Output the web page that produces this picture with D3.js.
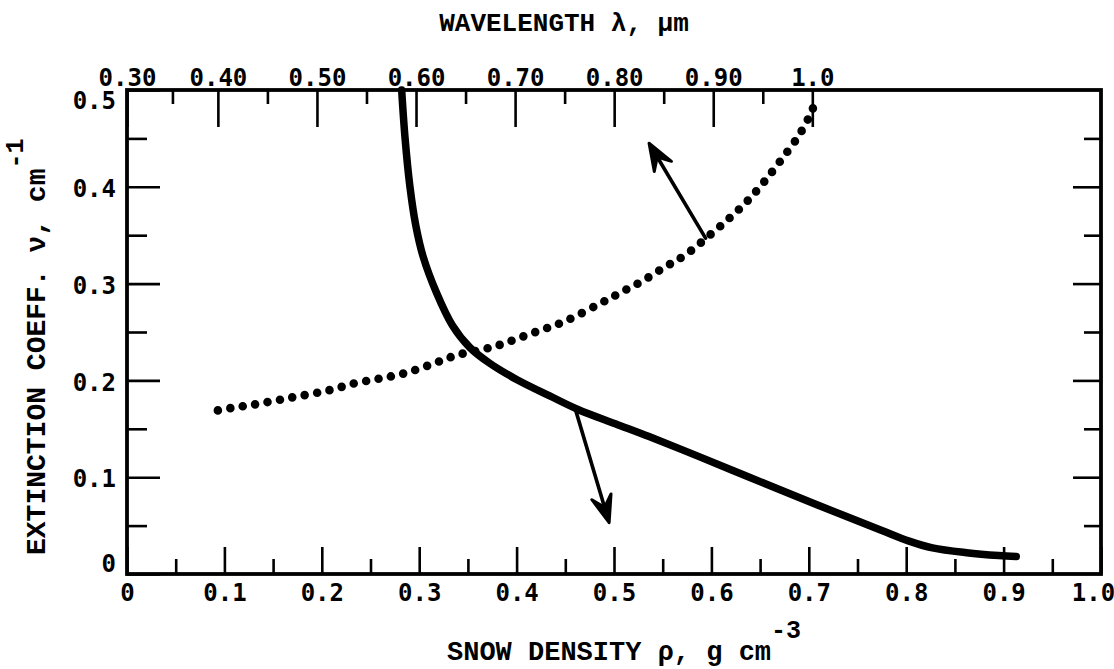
<!DOCTYPE html>
<html>
<head>
<meta charset="utf-8">
<script src="https://cdn.jsdelivr.net/npm/d3@7"></script>
<style>
  html, body { margin: 0; padding: 0; background: #fff; }
  svg { display: block; }
</style>
</head>
<body>
<svg id="chart" width="1114" height="669"></svg>
<script>
// ---------------- data ----------------
// Solid curve: extinction coefficient vs snow density (bottom axis)
const densityRho = [0.282, 0.2855, 0.2905, 0.2965, 0.304, 0.318, 0.334, 0.352, 0.372, 0.400, 0.434, 0.463, 0.502, 0.536, 0.588, 0.639, 0.690, 0.742, 0.775, 0.803, 0.827, 0.862, 0.895, 0.913];
const densityNu  = [0.500, 0.450, 0.400, 0.360, 0.328, 0.290, 0.257, 0.234, 0.218, 0.201, 0.184, 0.170, 0.155, 0.142, 0.121, 0.100, 0.079, 0.058, 0.045, 0.034, 0.027, 0.022, 0.019, 0.018];

// Dotted curve: extinction coefficient vs wavelength (top axis)
const wavelengthLambda = [0.400, 0.4165, 0.436, 0.4726, 0.513, 0.538, 0.564, 0.587, 0.614, 0.641, 0.679, 0.715, 0.750, 0.785, 0.807, 0.829, 0.851, 0.871, 0.901, 0.920, 0.936, 0.952, 0.968, 0.987, 0.999, 1.003];
const wavelengthNu     = [0.169, 0.172, 0.175, 0.182, 0.190, 0.197, 0.202, 0.207, 0.216, 0.226, 0.235, 0.248, 0.261, 0.279, 0.291, 0.303, 0.317, 0.329, 0.354, 0.371, 0.387, 0.406, 0.427, 0.454, 0.477, 0.488];

// Top wavelength axis calibration: wavelength value -> position on density axis
const topAxisLambda  = [0.30, 0.40, 1.0];
const topAxisDensity = [0.0, 0.0933, 0.7036];

// Tick values / labels
const xMajor = [0, 0.1, 0.2, 0.3, 0.4, 0.5, 0.6, 0.7, 0.8, 0.9, 1.0];
const xMinor = [0.05, 0.15, 0.25, 0.35, 0.45, 0.55, 0.65, 0.75, 0.85, 0.95];
const xLabels = ["0", "0.1", "0.2", "0.3", "0.4", "0.5", "0.6", "0.7", "0.8", "0.9", "1.0"];
const yMajor = [0, 0.1, 0.2, 0.3, 0.4, 0.5];
const yMinor = [0.05, 0.15, 0.25, 0.35, 0.45];
const yLabels = ["0", "0.1", "0.2", "0.3", "0.4", "0.5"];
const topMajor = [0.30, 0.40, 0.50, 0.60, 0.70, 0.80, 0.90, 1.0];
const topMinor = [0.35, 0.45, 0.55, 0.65, 0.75, 0.85, 0.95];
const topLabels = ["0.30", "0.40", "0.50", "0.60", "0.70", "0.80", "0.90", "1.0"];

// Annotation arrows (density-axis coords): from curve to tip
const arrowFrom = [[0.594, 0.347], [0.461, 0.168]];
const arrowTo   = [[0.536, 0.445], [0.495, 0.053]];

// ---------------- drawing ----------------
const svg = d3.select("#chart");
const x = d3.scaleLinear().domain([0, 1]).range([127, 1101]);
const y = d3.scaleLinear().domain([0, 0.5]).range([574, 90]);
const xTop = d3.scaleLinear().domain(topAxisLambda).range(topAxisDensity.map(d => x(d)));

const tickFont = "'DejaVu Sans Mono', monospace";
const titleFont = "'Liberation Mono', 'Courier New', monospace";

function styleAxis(g) {
  g.select(".domain").remove();
  g.selectAll(".tick line").attr("stroke", "#000").attr("stroke-width", 2.6);
  g.selectAll(".tick text").attr("fill", "#000").style("font-family", tickFont)
    .style("font-size", "24px").style("font-weight", "bold");
}

// bottom axis
svg.append("g").attr("transform", `translate(0,${y(0)})`)
  .call(d3.axisBottom(x).tickValues(xMinor).tickSize(-15).tickFormat(""))
  .call(styleAxis);
const botAx = svg.append("g").attr("transform", `translate(0,${y(0)})`)
  .call(d3.axisBottom(x).tickValues(xMajor).tickSize(-27).tickPadding(10)
        .tickFormat((d, i) => xLabels[i]))
  .call(styleAxis);
botAx.selectAll(".tick text").attr("dx", d => d === 1 ? -8 : 0);

// left axis
svg.append("g").attr("transform", `translate(${x(0)},0)`)
  .call(d3.axisLeft(y).tickValues(yMinor).tickSize(-20).tickFormat(""))
  .call(styleAxis);
const leftAx = svg.append("g").attr("transform", `translate(${x(0)},0)`)
  .call(d3.axisLeft(y).tickValues(yMajor).tickSize(-33).tickPadding(11)
        .tickFormat((d, i) => yLabels[i]))
  .call(styleAxis);
leftAx.selectAll(".tick text").attr("dy", d => d === 0.5 ? "0.75em" : (d === 0 ? "-0.1em" : "0.4em"));

// right axis
svg.append("g").attr("transform", `translate(${x(1)},0)`)
  .call(d3.axisRight(y).tickValues(yMinor).tickSize(-17).tickFormat(""))
  .call(styleAxis);
svg.append("g").attr("transform", `translate(${x(1)},0)`)
  .call(d3.axisRight(y).tickValues(yMajor.slice(1, 5)).tickSize(-28).tickFormat(""))
  .call(styleAxis);

// top axis (wavelength)
svg.append("g").attr("transform", `translate(0,${y(0.5)})`)
  .call(d3.axisTop(xTop).tickValues(topMinor).tickSize(-14).tickFormat(""))
  .call(styleAxis);
svg.append("g").attr("transform", `translate(0,${y(0.5)})`)
  .call(d3.axisTop(xTop).tickValues(topMajor).tickSize(-37).tickPadding(4)
        .tickFormat((d, i) => topLabels[i]))
  .call(styleAxis);

// frame
svg.append("rect")
  .attr("x", x(0)).attr("y", y(0.5))
  .attr("width", x(1) - x(0)).attr("height", y(0) - y(0.5))
  .attr("fill", "none").attr("stroke", "#000").attr("stroke-width", 3.8);

// solid curve
const solidPts = densityRho.map((r, i) => [x(r), y(densityNu[i])]);
svg.append("path")
  .attr("d", d3.line().curve(d3.curveCatmullRom.alpha(0.5))(solidPts))
  .attr("fill", "none").attr("stroke", "#000").attr("stroke-width", 7.5)
  .attr("stroke-linecap", "round").attr("stroke-linejoin", "round");

// dotted curve
const dotPts = wavelengthLambda.map((l, i) => [xTop(l), y(wavelengthNu[i])]);
svg.append("path")
  .attr("d", d3.line().curve(d3.curveCatmullRom.alpha(0.5))(dotPts))
  .attr("fill", "none").attr("stroke", "#000").attr("stroke-width", 8.6)
  .attr("stroke-linecap", "round").attr("stroke-dasharray", "0 12.6");

// arrows
arrowFrom.forEach((f, i) => {
  const t = arrowTo[i];
  const x1 = x(f[0]), y1 = y(f[1]), x2 = x(t[0]), y2 = y(t[1]);
  const ang = Math.atan2(y2 - y1, x2 - x1);
  const L = 27, Wd = 10, N = 16;
  const ca = Math.cos(ang), sa = Math.sin(ang);
  const bx = x2 - N * ca, by = y2 - N * sa;
  svg.append("line")
    .attr("x1", x1).attr("y1", y1).attr("x2", bx).attr("y2", by)
    .attr("stroke", "#000").attr("stroke-width", 3.6).attr("stroke-linecap", "round");
  const p1 = [x2 - L * ca - Wd * sa, y2 - L * sa + Wd * ca];
  const p2 = [x2 - L * ca + Wd * sa, y2 - L * sa - Wd * ca];
  svg.append("path")
    .attr("d", `M${x2},${y2}L${p1[0]},${p1[1]}L${bx},${by}L${p2[0]},${p2[1]}Z`)
    .attr("fill", "#000").attr("stroke", "#000").attr("stroke-width", 3)
    .attr("stroke-linejoin", "round");
});

// titles
svg.append("text")
  .attr("x", 564).attr("y", 31).attr("text-anchor", "middle")
  .style("font-family", titleFont).style("font-weight", "bold").style("font-size", "26px")
  .text("WAVELENGTH λ, μm");

const bt = svg.append("text")
  .attr("x", 447).attr("y", 660)
  .style("font-family", titleFont).style("font-weight", "bold").style("font-size", "27px");
bt.append("tspan").text("SNOW DENSITY ρ, g cm");
bt.append("tspan").attr("dy", -22).style("font-size", "25px").text("-3");

const lt = svg.append("text")
  .attr("transform", "translate(45,555) rotate(-90)")
  .style("font-family", titleFont).style("font-weight", "bold").style("font-size", "28px");
lt.append("tspan").text("EXTINCTION COEFF. ν, cm");
lt.append("tspan").attr("dy", -22).style("font-size", "25px").text("-1");
</script>
</body>
</html>
